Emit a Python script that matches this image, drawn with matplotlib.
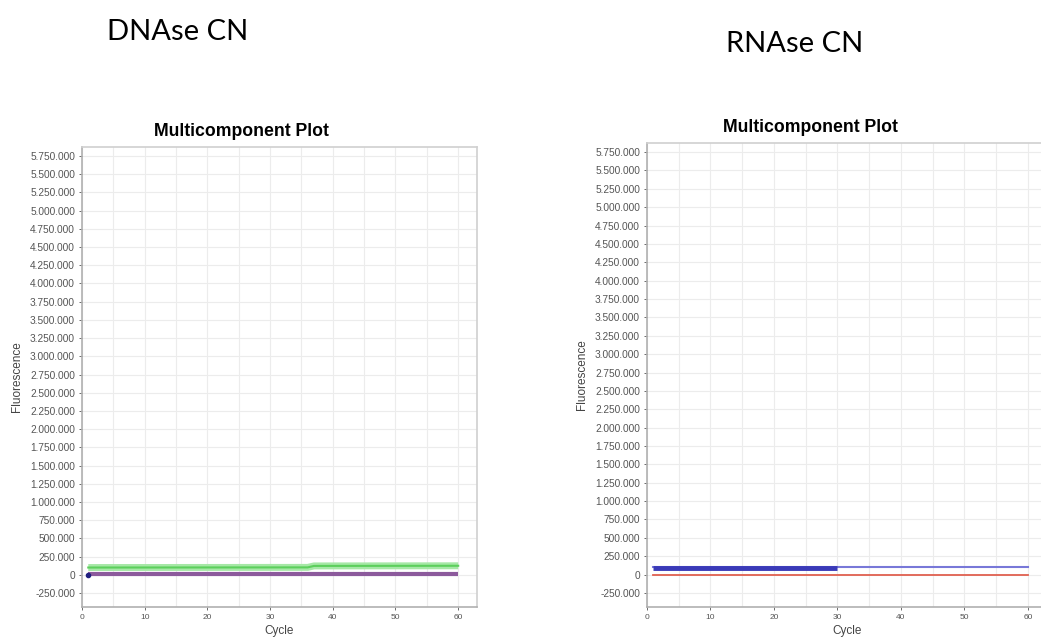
import matplotlib.pyplot as plt
from matplotlib.ticker import FuncFormatter, MultipleLocator

# left panel (DNAse CN): breakpoints
dna_green_cycles = [1, 36, 37, 60]
dna_green_values = [100000, 102000, 122000, 124000]
dna_purple_cycles = [1, 60]
dna_purple_values = [5000, 5000]

# right panel (RNAse CN)
rna_blue_thick_cycles = [1, 30]
rna_blue_thick_values = [92000, 92000]
rna_blue_cycles = [1, 60]
rna_blue_values = [108000, 108000]
rna_red_cycles = [1, 60]
rna_red_values = [0, 0]

y_ticks = list(range(-250000, 5750001, 250000))
x_ticks = [0, 10, 20, 30, 40, 50, 60]

W, H = 1041, 637


def dotted(v, pos):
    return "{:,}".format(int(v)).replace(",", ".")


def style_axes(ax):
    ax.set_xlim(0, 63)
    ax.set_ylim(-442000, 5874000)
    ax.set_yticks(y_ticks)
    ax.set_xticks(x_ticks)
    ax.yaxis.set_major_formatter(FuncFormatter(dotted))
    ax.xaxis.set_minor_locator(MultipleLocator(5))
    ax.grid(True, which="both", color="#ececec", lw=0.8)
    ax.set_axisbelow(True)
    ax.tick_params(labelsize=7.3, colors="#555555", length=2, width=0.6, pad=3)
    ax.tick_params(axis="x", labelsize=6)
    ax.tick_params(which="minor", length=0)
    for s in ax.spines.values():
        s.set_color("#d0d0d0")
        s.set_linewidth(1.2)
    ax.spines["left"].set_color("#b0b0b0")
    ax.spines["bottom"].set_color("#b0b0b0")
    ax.set_xlabel("Cycle", fontsize=8.5, color="#444444", labelpad=3)
    ax.set_ylabel("Fluorescence", fontsize=8.5, color="#444444", labelpad=5)


fig = plt.figure(figsize=(W / 100, H / 100), dpi=100)
plt.rcParams['font.family'] = ['Liberation Sans', 'DejaVu Sans']

ax1 = fig.add_axes([82 / W, 30 / H, 395 / W, 460 / H])
ax1.plot(dna_green_cycles, dna_green_values, color="#a6e8a6", lw=5, solid_capstyle="butt")
ax1.plot(dna_green_cycles, dna_green_values, color="#5ccf5c", lw=1.5)
ax1.plot(dna_purple_cycles, dna_purple_values, color="#8c5a9c", lw=3, solid_capstyle="butt")
ax1.plot([1], [0], "o", color="#202080", ms=3)
style_axes(ax1)

ax2 = fig.add_axes([647 / W, 30 / H, 400 / W, 464 / H])
ax2.plot(rna_blue_cycles, rna_blue_values, color="#7878d8", lw=1.5)
ax2.plot(rna_blue_thick_cycles, rna_blue_thick_values, color="#3a3ab8", lw=3.5, solid_capstyle="butt")
ax2.plot(rna_red_cycles, rna_red_values, color="#e06050", lw=1.3)
style_axes(ax2)

fig.text(241 / W, 1 - 132 / H, "Multicomponent Plot", fontsize=12.7, fontweight="bold",
         ha="center", va="center")
fig.text(810 / W, 1 - 128 / H, "Multicomponent Plot", fontsize=12.7, fontweight="bold",
         ha="center", va="center")

fig.text(107 / W, 1 - 40 / H, "DNAse CN", fontsize=21, family="Lato", va="baseline", ha="left")
fig.text(726 / W, 1 - 52 / H, "RNAse CN", fontsize=21, family="Lato", va="baseline", ha="left")

fig.savefig("out.png", dpi=100)
